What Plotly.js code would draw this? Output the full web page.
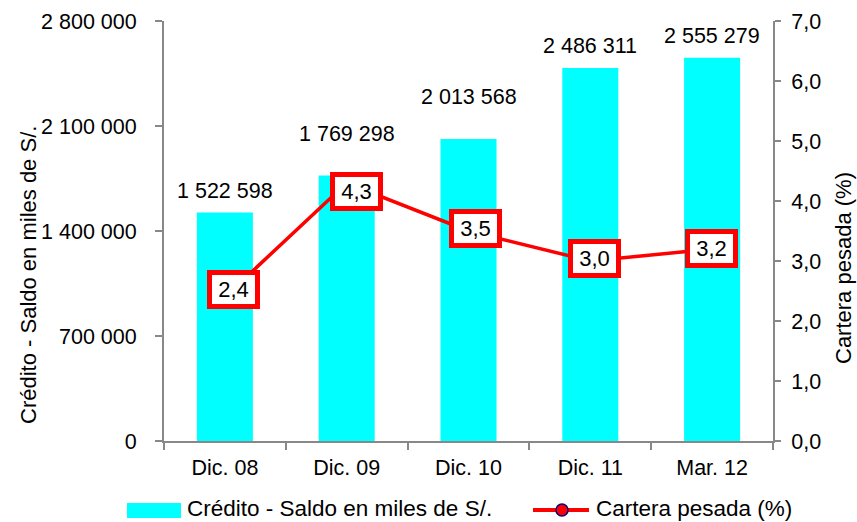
<!DOCTYPE html>
<html>
<head>
<meta charset="utf-8">
<script src="https://cdn.plot.ly/plotly-3.0.1.min.js"></script>
<style>html,body{margin:0;padding:0;background:#fff;}#chart{width:857px;height:522px;}</style>
</head>
<body>
<div id="chart"></div>
<script>
// ---- data ----
const categories = ["Dic. 08", "Dic. 09", "Dic. 10", "Dic. 11", "Mar. 12"];
const creditoSaldo = [1522598, 1769298, 2013568, 2486311, 2555279];
const carteraPesada = [2.4, 4.3, 3.5, 3.0, 3.2];
const seriesNames = ["Crédito - Saldo en miles de S/.", "Cartera pesada (%)"];
const leftTickValues = [0, 700000, 1400000, 2100000, 2800000];
const rightTickValues = [0, 1, 2, 3, 4, 5, 6, 7];

// ---- styling / placement (not data) ----
const barLabelShift = [8, 28, 28, 8, 8];
const boxShiftX = [9, 10, 7, 4, -1];
const boxShiftY = [8, -8, 3, 3, 1];

const FONT = "Liberation Sans, Arial, Helvetica, sans-serif";
const GRAY = "#888888";
const CYAN = "#00FFFF";
const RED = "#FF0000";
const L = 164, R = 773, T = 21, B = 441;
const fx = px => (px - L) / (R - L);
const fy = py => (B - py) / (B - T);

const fmtThousands = v => String(v).replace(/\B(?=(\d{3})+(?!\d))/g, " ");
const fmtDec = v => v.toFixed(1).replace(".", ",");

const barTrace = {
  type: "bar", x: categories, y: creditoSaldo, name: seriesNames[0],
  marker: {color: CYAN, line: {width: 0}}, yaxis: "y", showlegend: false,
  hoverinfo: "skip"
};
const lineTrace = {
  type: "scatter", mode: "lines+markers", x: categories, y: carteraPesada,
  name: seriesNames[1], yaxis: "y2", showlegend: false,
  line: {color: RED, width: 3.5},
  marker: {color: RED, size: 10, line: {color: "#000080", width: 1.5}},
  hoverinfo: "skip", cliponaxis: false
};

const annotations = [];
categories.forEach((c, i) => {
  annotations.push({
    x: c, y: creditoSaldo[i], xref: "x", yref: "y", text: fmtThousands(creditoSaldo[i]),
    showarrow: false, yanchor: "bottom", xanchor: "center", yshift: barLabelShift[i],
    font: {family: FONT, size: 21.5, color: "#000"}
  });
  annotations.push({
    x: c, y: carteraPesada[i], xref: "x", yref: "y2", text: fmtDec(carteraPesada[i]),
    showarrow: false, xanchor: "center", yanchor: "middle",
    xshift: boxShiftX[i], yshift: boxShiftY[i],
    bgcolor: "#FFFFFF", bordercolor: RED, borderwidth: 5, borderpad: 4,
    width: 35, height: 21,
    font: {family: FONT, size: 22, color: "#000"}
  });
});
// axis titles
annotations.push({
  text: seriesNames[0], xref: "paper", yref: "paper", x: fx(28), y: fy(275),
  textangle: -90, showarrow: false, xanchor: "center", yanchor: "middle",
  font: {family: FONT, size: 22, color: "#000"}
});
annotations.push({
  text: seriesNames[1], xref: "paper", yref: "paper", x: fx(843), y: fy(268),
  textangle: -90, showarrow: false, xanchor: "center", yanchor: "middle",
  font: {family: FONT, size: 22, color: "#000"}
});
// legend texts
annotations.push({
  text: seriesNames[0], xref: "paper", yref: "paper", x: fx(186), y: fy(508.5),
  showarrow: false, xanchor: "left", yanchor: "middle", borderpad: 0,
  font: {family: FONT, size: 22.5, color: "#000"}
});
annotations.push({
  text: seriesNames[1], xref: "paper", yref: "paper", x: fx(595), y: fy(508.5),
  showarrow: false, xanchor: "left", yanchor: "middle", borderpad: 0,
  font: {family: FONT, size: 22.5, color: "#000"}
});

const shapes = [
  {type: "rect", xref: "paper", yref: "paper", x0: fx(127), x1: fx(181), y0: fy(518), y1: fy(503),
   fillcolor: CYAN, line: {width: 0}},
  {type: "line", xref: "paper", yref: "paper", x0: fx(533), x1: fx(589), y0: fy(510), y1: fy(510),
   line: {color: RED, width: 4}},
  {type: "circle", xref: "paper", yref: "paper", x0: fx(556), x1: fx(568), y0: fy(516), y1: fy(504),
   fillcolor: RED, line: {color: "#000080", width: 1.5}}
];

const layout = {
  width: 857, height: 522,
  margin: {l: L, r: 857 - R, t: T, b: 522 - B, pad: 0},
  paper_bgcolor: "#fff", plot_bgcolor: "#fff",
  separators: ", ",
  font: {family: FONT, size: 21.5, color: "#000"},
  bargap: 0.54,
  showlegend: false,
  xaxis: {
    type: "category", showline: true, linecolor: GRAY, linewidth: 2,
    ticks: "outside", tickson: "boundaries", ticklen: 7, tickcolor: GRAY, tickwidth: 2,
    showgrid: false, zeroline: false, fixedrange: true,
    tickfont: {family: FONT, size: 21.5, color: "#000"}, ticklabelstandoff: 6
  },
  yaxis: {
    range: [0, 2800000], tickvals: leftTickValues, tickformat: ",d",
    showline: true, linecolor: GRAY, linewidth: 2, ticks: "outside", ticklen: 7,
    tickcolor: GRAY, tickwidth: 2, showgrid: false, zeroline: false,
    tickfont: {family: FONT, size: 21.5, color: "#000"}, ticklabelstandoff: 14
  },
  yaxis2: {
    range: [0, 7], tickvals: rightTickValues, tickformat: ".1f",
    overlaying: "y", side: "right",
    showline: true, linecolor: GRAY, linewidth: 2, ticks: "outside", ticklen: 6,
    tickcolor: GRAY, tickwidth: 2, showgrid: false, zeroline: false,
    tickfont: {family: FONT, size: 21.5, color: "#000"}, ticklabelstandoff: 6
  },
  annotations: annotations,
  shapes: shapes
};

Plotly.newPlot("chart", [barTrace, lineTrace], layout, {staticPlot: true, displayModeBar: false});
</script>
</body>
</html>
